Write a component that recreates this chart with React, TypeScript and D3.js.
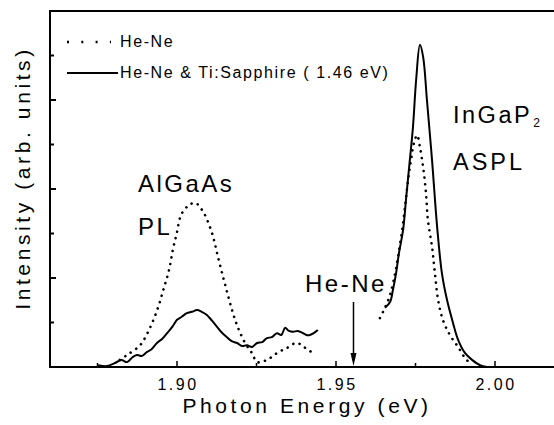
import React from "react";
import * as d3 from "d3";

// He-Ne only (dotted) — AlGaAs PL region
const heNeAlGaAsX = [1.8820, 1.8843, 1.8884, 1.8915, 1.8940, 1.8959, 1.8975, 1.8987, 1.9000, 1.9013, 1.9035, 1.9057, 1.9082, 1.9110, 1.9129, 1.9145, 1.9160, 1.9176, 1.9192, 1.9214, 1.9236, 1.9252, 1.9283, 1.9314, 1.9346, 1.9377, 1.9403, 1.9428];
const heNeAlGaAsY = [0.16, 0.27, 0.49, 0.88, 1.33, 1.78, 2.18, 2.63, 3.03, 3.42, 3.62, 3.69, 3.49, 3.01, 2.47, 2.02, 1.62, 1.21, 0.88, 0.54, 0.31, 0.11, 0.16, 0.31, 0.43, 0.54, 0.43, 0.31];
// He-Ne only (dotted) — InGaP2 ASPL region
const heNeInGaPX = [1.9638, 1.9654, 1.9670, 1.9685, 1.9695, 1.9708, 1.9717, 1.9726, 1.9736, 1.9745, 1.9755, 1.9764, 1.9774, 1.9783, 1.9789, 1.9802, 1.9811, 1.9821, 1.9836, 1.9858, 1.9884, 1.9906, 1.9921];
const heNeInGaPY = [1.10, 1.33, 1.62, 2.07, 2.47, 3.08, 3.60, 4.16, 4.65, 5.03, 5.21, 4.94, 4.49, 3.91, 3.30, 2.70, 2.11, 1.51, 1.06, 0.72, 0.45, 0.20, 0.09];
// He-Ne & Ti:Sapphire (solid) — AlGaAs PL region
const bothAlGaAsX = [1.8752, 1.8780, 1.8805, 1.8825, 1.8843, 1.8860, 1.8874, 1.8890, 1.8906, 1.8920, 1.8937, 1.8953, 1.8969, 1.8985, 1.9000, 1.9015, 1.9031, 1.9047, 1.9063, 1.9078, 1.9094, 1.9110, 1.9126, 1.9140, 1.9157, 1.9172, 1.9189, 1.9205, 1.9220, 1.9236, 1.9252, 1.9268, 1.9283, 1.9298, 1.9314, 1.9328, 1.9340, 1.9352, 1.9365, 1.9380, 1.9396, 1.9407, 1.9418, 1.9430, 1.9443];
const bothAlGaAsY = [0.04, 0.02, 0.09, 0.16, 0.11, 0.22, 0.27, 0.25, 0.34, 0.40, 0.54, 0.63, 0.76, 0.90, 1.06, 1.13, 1.21, 1.24, 1.28, 1.24, 1.17, 1.04, 0.90, 0.78, 0.67, 0.58, 0.54, 0.47, 0.49, 0.45, 0.54, 0.56, 0.65, 0.67, 0.76, 0.72, 0.88, 0.81, 0.79, 0.81, 0.76, 0.72, 0.72, 0.76, 0.83];
// He-Ne & Ti:Sapphire (solid) — InGaP2 ASPL region
const bothInGaPX = [1.9654, 1.9670, 1.9679, 1.9689, 1.9698, 1.9711, 1.9720, 1.9730, 1.9742, 1.9752, 1.9764, 1.9774, 1.9786, 1.9802, 1.9818, 1.9833, 1.9849, 1.9868, 1.9884, 1.9906, 1.9928, 1.9953, 1.9975];
const bothInGaPY = [1.33, 1.46, 1.73, 2.11, 2.56, 3.08, 3.75, 4.49, 5.39, 6.45, 7.24, 6.97, 6.00, 4.65, 3.15, 2.11, 1.51, 0.99, 0.61, 0.31, 0.16, 0.04, 0.00];

const xMajorTicks = [1.9, 1.95, 2.0];
const xTickLabels = ["1.90", "1.95", "2.00"];
const xMinorTicks = [1.875, 1.925, 1.975];
const yMajorTicks = [2, 4, 6];
const yMinorTicks = [1, 3, 5, 7];

const legendLabels = ["He-Ne", "He-Ne & Ti:Sapphire ( 1.46 eV)"];
const xTitle = "Photon Energy (eV)";
const yTitle = "Intensity (arb. units)";

const W = 554;
const H = 425;
const FONT = "'Liberation Sans', Arial, Helvetica, sans-serif";

export default function App() {
  const x = d3.scaleLinear().domain([1.9, 2.0]).range([177, 495]);
  const y = d3.scaleLinear().domain([0, 8]).range([367, 11]);
  const line = d3
    .line<[number, number]>()
    .x((d) => x(d[0]))
    .y((d) => y(d[1]))
    .curve(d3.curveCatmullRom.alpha(0.5));
  const zip = (a: number[], b: number[]) => a.map((v, i) => [v, b[i]] as [number, number]);

  const x0 = 50;
  const x1 = 560;
  const arrowX = x(1.9555);

  const dotted = { stroke: "#000", strokeWidth: 2.6, fill: "none", strokeDasharray: "0.1 6.5", strokeLinecap: "round" as const };
  const solid = { stroke: "#000", strokeWidth: 2, fill: "none", strokeLinejoin: "round" as const };

  return (
    <svg width={W} height={H} style={{ position: "absolute", left: 0, top: 0, background: "#fff" }}>
      {/* frame */}
      <line x1={x0} x2={x1} y1={y(8)} y2={y(8)} stroke="#000" strokeWidth={2} />
      <line x1={x0} x2={x1} y1={y(0)} y2={y(0)} stroke="#000" strokeWidth={2.2} />
      <line x1={x0} x2={x0} y1={y(8) - 1} y2={y(0) + 1} stroke="#000" strokeWidth={2} />
      {/* y ticks */}
      {yMajorTicks.map((t) => (
        <line key={"ym" + t} x1={x0} x2={x0 + 6} y1={y(t)} y2={y(t)} stroke="#000" strokeWidth={2} />
      ))}
      {yMinorTicks.map((t) => (
        <line key={"yn" + t} x1={x0} x2={x0 + 4} y1={y(t)} y2={y(t)} stroke="#000" strokeWidth={2} />
      ))}
      {/* x ticks */}
      {xMajorTicks.map((t) => (
        <line key={"xm" + t} x1={x(t)} x2={x(t)} y1={y(0)} y2={y(0) - 6} stroke="#000" strokeWidth={1.5} />
      ))}
      {xMinorTicks.map((t) => (
        <line key={"xn" + t} x1={x(t)} x2={x(t)} y1={y(0)} y2={y(0) - 4} stroke="#000" strokeWidth={1.5} />
      ))}
      {xMajorTicks.map((t, i) => (
        <text key={"xl" + t} x={x(t) + 1} y={390} textAnchor="middle" fontFamily={FONT} fontSize={16} letterSpacing={2.5}>
          {xTickLabels[i]}
        </text>
      ))}
      <text x={307} y={413} textAnchor="middle" fontFamily={FONT} fontSize={21} letterSpacing={3.6}>
        {xTitle}
      </text>
      <text transform="translate(30,178) rotate(-90)" textAnchor="middle" fontFamily={FONT} fontSize={21} letterSpacing={3.6}>
        {yTitle}
      </text>

      {/* curves */}
      <path d={line(zip(heNeAlGaAsX, heNeAlGaAsY)) || ""} style={dotted} />
      <path d={line(zip(heNeInGaPX, heNeInGaPY)) || ""} style={dotted} />
      <path d={line(zip(bothAlGaAsX, bothAlGaAsY)) || ""} style={solid} />
      <path d={line(zip(bothInGaPX, bothInGaPY)) || ""} style={solid} />

      {/* legend */}
      <line x1={67} x2={111} y1={42} y2={42} stroke="#000" strokeWidth={2.6} strokeDasharray="2 12.3" />
      <text x={120} y={47} fontFamily={FONT} fontSize={16} letterSpacing={1.6}>{legendLabels[0]}</text>
      <line x1={67} x2={118} y1={73} y2={73} stroke="#000" strokeWidth={2} />
      <text x={120} y={78} fontFamily={FONT} fontSize={16} letterSpacing={1.6}>{legendLabels[1]}</text>

      {/* annotations */}
      <text x={138} y={192} fontFamily={FONT} fontSize={24} letterSpacing={2.5}>AlGaAs</text>
      <text x={138} y={235} fontFamily={FONT} fontSize={24} letterSpacing={2.5}>PL</text>
      <text x={305} y={292} fontFamily={FONT} fontSize={24} letterSpacing={2.5}>He-Ne</text>
      <line x1={arrowX} x2={arrowX} y1={302} y2={358} stroke="#000" strokeWidth={1.5} />
      <path d={`M${arrowX - 3},353 L${arrowX},366 L${arrowX + 3},353 Z`} fill="#000" />
      <text x={453} y={123} fontFamily={FONT} fontSize={23.5} letterSpacing={2.5}>
        InGaP<tspan fontSize={12} dy={4} dx={1}>2</tspan>
      </text>
      <text x={453} y={170} fontFamily={FONT} fontSize={23.5} letterSpacing={3}>ASPL</text>
    </svg>
  );
}
